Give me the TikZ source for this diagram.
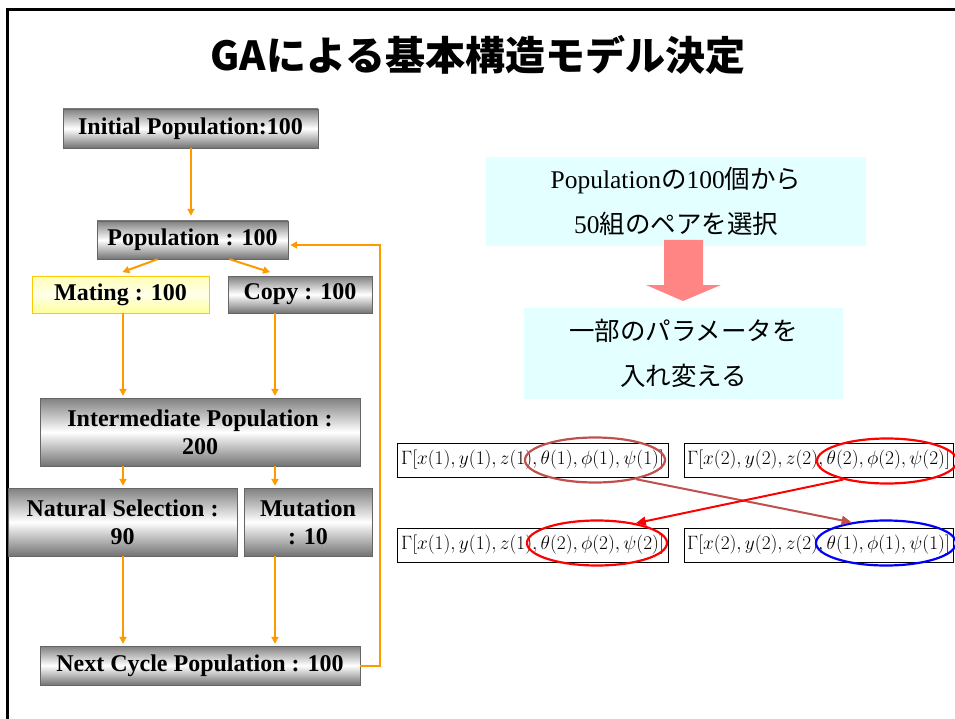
\documentclass[tikz,border=0pt]{standalone}
\usepackage{graphicx}
\usepackage{fontspec}
\setmainfont{Liberation Serif}
\newfontfamily\cjk{Noto Sans CJK JP}
\usetikzlibrary{arrows.meta,shapes.geometric}
\definecolor{orange1}{HTML}{FF9900}
\definecolor{cyan1}{HTML}{E3FFFF}
\definecolor{pink1}{HTML}{FF8585}
\definecolor{brick1}{HTML}{C0504D}
\definecolor{yellow1}{HTML}{FFFF99}
\newcommand{\jp}[1]{{\cjk #1}}
\newcommand{\gene}[2]{\scalebox{1.12}{$\Gamma\bigl[x(#1), y(#1), z(#1), \theta(#2), \phi(#2), \psi(#2)\bigr]$}}
\tikzset{
  gabox/.style={draw=black!60, top color=black!50, bottom color=black!55, middle color=white,
    font=\fontsize{24}{28}\selectfont\bfseries, align=center, inner sep=0pt},
  matebox/.style={gabox, draw=yellow!60!orange, top color=yellow1!70, bottom color=yellow1, middle color=yellow1!20},
  flow/.style={draw=orange1, line width=2pt, shorten >=2pt, -{Triangle[length=7pt,width=7pt]}},
  notebox/.style={fill=cyan1, font=\fontsize{25.5}{45}\selectfont, align=center, inner sep=0pt},
  genebox/.style={draw=black, line width=0.8pt, inner sep=1pt, font=\fontsize{17}{20}\selectfont},
  ring/.style={ellipse, draw, line width=2.2pt, minimum width=140pt, minimum height=45pt, inner sep=0pt},
  swap/.style={line width=2pt, -{Triangle[length=10pt,width=9pt]}}
}
\begin{document}
\begin{tikzpicture}[x=1pt,y=-1pt]
\useasboundingbox (0,0) rectangle (955,719);
\draw[line width=3pt] (7,719) -- (7,9.5) -- (955,9.5);
\node[font=\cjk\bfseries\fontsize{40}{40}\selectfont] (title) at (478,55) {GAによる基本構造モデル決定};
% flow chart
\node[gabox, minimum width=255pt, minimum height=39pt] (init) at (190.5,128.5) {Initial Population:100};
\node[gabox, minimum width=191pt, minimum height=38pt] (pop) at (192.5,240) {Population : 100};
\node[matebox, minimum width=177pt, minimum height=37pt] (mating) at (120.5,294.5) {Mating : 100};
\node[gabox, minimum width=144pt, minimum height=37pt] (copy) at (300,294.5) {Copy : 100};
\node[gabox, minimum width=320pt, minimum height=68pt] (inter) at (200,432) {Intermediate Population :\\200};
\node[gabox, minimum width=229pt, minimum height=68pt] (natsel) at (122.5,522) {Natural Selection :\\90};
\node[gabox, minimum width=128pt, minimum height=68pt] (mutation) at (308,522) {Mutation\\: 10};
\node[gabox, minimum width=320pt, minimum height=39pt] (next) at (200,665.5) {Next Cycle Population : 100};
\coordinate (colL) at (123,0);
\coordinate (colR) at (275,0);
\draw[flow, shorten >=5pt] (init.south -| 191,0) -- (pop.north -| 191,0);
\draw[flow] ([xshift=-35pt]pop.south) -- ([yshift=3pt]mating.north);
\draw[flow] ([xshift=37pt]pop.south) -- ([xshift=-28pt,yshift=3pt]copy.north);
\draw[flow] (mating.south -| colL) -- (inter.north -| colL);
\draw[flow] (copy.south -| colR) -- (inter.north -| colR);
\draw[flow] (inter.south -| colL) -- (natsel.north -| colL);
\draw[flow] (inter.south -| colR) -- (mutation.north -| colR);
\draw[flow] (natsel.south -| colL) -- (next.north -| colL);
\draw[flow] (mutation.south -| colR) -- (next.north -| colR);
\draw[flow] (next.east) -- ++(20,0) |- ([yshift=-5pt]pop.east);
% crossover
\node[notebox, minimum width=380pt, minimum height=89pt] (pick) at (676,201.5) {Population\jp{の}100\jp{個から}\\50\jp{組のペアを選択}};
\fill[pink1] (664,240) -- (703,240) -- (703,285) -- (721,285) -- (683,301) -- (646,285) -- (664,285) -- cycle;
\node[notebox, minimum width=319pt, minimum height=91pt] (change) at (683.5,353.5) {\jp{一部のパラメータを}\\\jp{入れ変える}};
\node[genebox, minimum width=271pt, minimum height=34pt] (g1) at (532.5,460) {\gene{1}{1}};
\node[genebox, minimum width=269pt, minimum height=34pt] (g2) at (818.5,460) {\gene{2}{2}};
\node[genebox, minimum width=271pt, minimum height=34pt] (g3) at (532.5,545) {\gene{1}{2}};
\node[genebox, minimum width=269pt, minimum height=34pt] (g4) at (818.5,545) {\gene{2}{1}};
\node[ring, draw=brick1] (r1) at (595,460) {};
\node[ring, draw=red] (r2) at (887,461) {};
\node[ring, draw=red] (r3) at (597,543) {};
\node[ring, draw=blue] (r4) at (886,543) {};
\draw[swap, brick1] (r1.-25) -- (r4.149);
\draw[swap, red] (r2.-157) -- (r3.27);
\end{tikzpicture}
\end{document}
